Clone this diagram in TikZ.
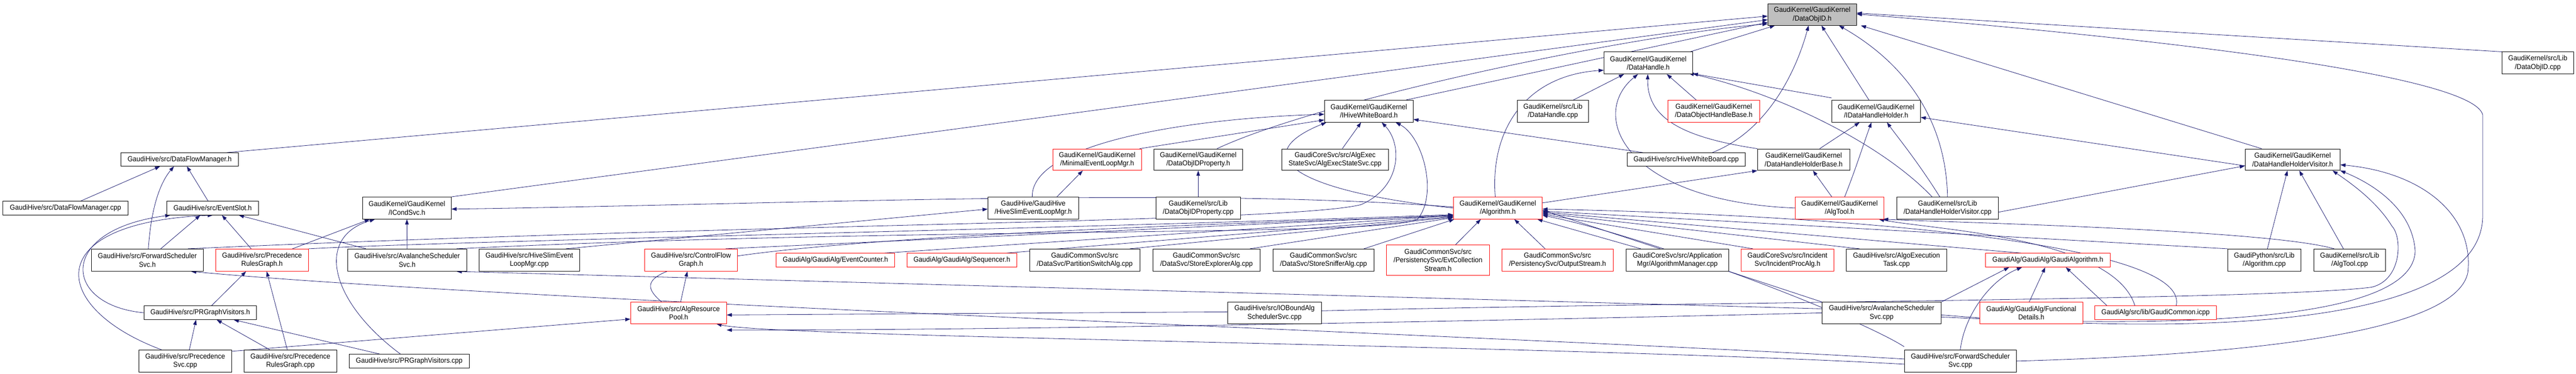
\documentclass[tikz,border=0pt]{standalone}
\usepackage{fontspec}
\setmainfont{Liberation Sans}[FakeStretch=0.93]
\usetikzlibrary{arrows.meta}
\definecolor{edgec}{RGB}{25,25,112}
\definecolor{grayf}{RGB}{191,191,191}
\pgfdeclarelayer{edges}
\pgfsetlayers{edges,main}
\begin{document}
\begin{tikzpicture}[x=1pt,y=-1.394pt,
  box/.style={draw=black,line width=0.8pt,fill=white,inner sep=0pt,align=center,font=\fontsize{14}{16.3}\selectfont},
  rbox/.style={box,draw=red},
  gbox/.style={box,fill=grayf},
  e/.style={draw=edgec,line width=0.8pt,-{Triangle[length=10pt,width=7pt]}}]
\begin{pgfonlayer}{edges}
\fill[white] (0,0) rectangle (4997,520.1);
\end{pgfonlayer}
\useasboundingbox (0,0) rectangle (4997,520.1);
% ---------- nodes ----------
\node[gbox,minimum width=172pt,minimum height=41.8pt] (doid) at (3515.3,20.3) {GaudiKernel/GaudiKernel\\/DataObjID.h};
\node[box,minimum width=172pt,minimum height=42.8pt] (dh) at (3197.3,87.7) {GaudiKernel/GaudiKernel\\/DataHandle.h};
\node[box,minimum width=139pt,minimum height=42.8pt] (doidcpp) at (4922.8,87.7) {GaudiKernel/src/Lib\\/DataObjID.cpp};
\node[box,minimum width=172pt,minimum height=42.8pt] (ihwb) at (2655.3,154.8) {GaudiKernel/GaudiKernel\\/IHiveWhiteBoard.h};
\node[box,minimum width=138pt,minimum height=42.8pt] (dhcpp) at (3012.3,154.8) {GaudiKernel/src/Lib\\/DataHandle.cpp};
\node[rbox,minimum width=178pt,minimum height=42.8pt] (dohb) at (3324.3,154.8) {GaudiKernel/GaudiKernel\\/DataObjectHandleBase.h};
\node[box,minimum width=172pt,minimum height=42.8pt] (idhh) at (3639.3,154.8) {GaudiKernel/GaudiKernel\\/IDataHandleHolder.h};
\node[rbox,minimum width=172pt,minimum height=41.8pt] (mel) at (2128.3,222.3) {GaudiKernel/GaudiKernel\\/MinimalEventLoopMgr.h};
\node[box,minimum width=172pt,minimum height=41.8pt] (doidp) at (2324.3,222.3) {GaudiKernel/GaudiKernel\\/DataObjIDProperty.h};
\node[box,minimum width=207pt,minimum height=41.8pt] (aes) at (2589.8,222.3) {GaudiCoreSvc/src/AlgExec\\StateSvc/AlgExecStateSvc.cpp};
\node[box,minimum width=228.4pt,minimum height=26pt] (dfm) at (348.5,222) {GaudiHive/src/DataFlowManager.h};
\node[box,minimum width=229pt,minimum height=26pt] (hwb) at (3270.8,222) {GaudiHive/src/HiveWhiteBoard.cpp};
\node[box,minimum width=179pt,minimum height=41.8pt] (dhhb) at (3498.8,222.3) {GaudiKernel/GaudiKernel\\/DataHandleHolderBase.h};
\node[box,minimum width=184.3pt,minimum height=41.8pt] (dhhv) at (4447.2,222.3) {GaudiKernel/GaudiKernel\\/DataHandleHolderVisitor.h};
\node[box,minimum width=243.4pt,minimum height=26.9pt] (dfmcpp) at (127,289.7) {GaudiHive/src/DataFlowManager.cpp};
\node[box,minimum width=178.4pt,minimum height=26.9pt] (es) at (412.5,289.7) {GaudiHive/src/EventSlot.h};
\node[box,minimum width=172pt,minimum height=42.8pt] (ics) at (789.3,289.7) {GaudiKernel/GaudiKernel\\/ICondSvc.h};
\node[box,minimum width=176pt,minimum height=42.8pt] (hsel) at (2004.3,289.7) {GaudiHive/GaudiHive\\/HiveSlimEventLoopMgr.h};
\node[box,minimum width=164pt,minimum height=42.8pt] (doidpcpp) at (2324.3,289.7) {GaudiKernel/src/Lib\\/DataObjIDProperty.cpp};
\node[rbox,minimum width=172.4pt,minimum height=42.8pt] (alg) at (2905.5,289.7) {GaudiKernel/GaudiKernel\\/Algorithm.h};
\node[rbox,minimum width=172pt,minimum height=42.8pt] (at) at (3568.3,289.7) {GaudiKernel/GaudiKernel\\/AlgTool.h};
\node[box,minimum width=197pt,minimum height=42.8pt] (dhhvcpp) at (3777.8,289.7) {GaudiKernel/src/Lib\\/DataHandleHolderVisitor.cpp};
\node[box,minimum width=217pt,minimum height=43.2pt] (fsh) at (285.8,362.2) {GaudiHive/src/ForwardScheduler\\Svc.h};
\node[rbox,minimum width=180pt,minimum height=43.2pt] (prgh) at (508.3,362.2) {GaudiHive/src/Precedence\\RulesGraph.h};
\node[box,minimum width=231pt,minimum height=43.2pt] (ash) at (789.8,362.2) {GaudiHive/src/AvalancheScheduler\\Svc.h};
\node[box,minimum width=195pt,minimum height=43.2pt] (hselcpp) at (1026.8,362.2) {GaudiHive/src/HiveSlimEvent\\LoopMgr.cpp};
\node[rbox,minimum width=180pt,minimum height=43.2pt] (cfg) at (1340.3,362.2) {GaudiHive/src/ControlFlow\\Graph.h};
\node[rbox,minimum width=230.4pt,minimum height=26.9pt] (ec) at (1620.5,362.3) {GaudiAlg/GaudiAlg/EventCounter.h};
\node[rbox,minimum width=213pt,minimum height=26.9pt] (seq) at (1865.8,362.3) {GaudiAlg/GaudiAlg/Sequencer.h};
\node[box,minimum width=214.3pt,minimum height=43.2pt] (psa) at (2104.2,362.2) {GaudiCommonSvc/src\\/DataSvc/PartitionSwitchAlg.cpp};
\node[box,minimum width=208pt,minimum height=43.2pt] (sea) at (2340.3,362.2) {GaudiCommonSvc/src\\/DataSvc/StoreExplorerAlg.cpp};
\node[box,minimum width=196pt,minimum height=43.2pt] (ssa) at (2567.3,362.2) {GaudiCommonSvc/src\\/DataSvc/StoreSnifferAlg.cpp};
\node[rbox,minimum width=200.4pt,minimum height=59pt] (ecs) at (2789.5,362.2) {GaudiCommonSvc/src\\/PersistencySvc/EvtCollection\\Stream.h};
\node[rbox,minimum width=216pt,minimum height=43.2pt] (os) at (3021.3,362.2) {GaudiCommonSvc/src\\/PersistencySvc/OutputStream.h};
\node[box,minimum width=199pt,minimum height=43.2pt] (am) at (3253.8,362.2) {GaudiCoreSvc/src/Application\\Mgr/AlgorithmManager.cpp};
\node[rbox,minimum width=180pt,minimum height=43.2pt] (ipa) at (3467.3,362.2) {GaudiCoreSvc/src/Incident\\Svc/IncidentProcAlg.h};
\node[box,minimum width=195pt,minimum height=43.2pt] (aet) at (3678.8,362.2) {GaudiHive/src/AlgoExecution\\Task.cpp};
\node[rbox,minimum width=242pt,minimum height=26.9pt] (ga) at (3972.3,362.3) {GaudiAlg/GaudiAlg/GaudiAlgorithm.h};
\node[box,minimum width=142pt,minimum height=43.2pt] (gpa) at (4392.3,362.2) {GaudiPython/src/Lib\\/Algorithm.cpp};
\node[box,minimum width=139pt,minimum height=43.2pt] (atcpp) at (4557.8,362.2) {GaudiKernel/src/Lib\\/AlgTool.cpp};
\node[box,minimum width=218pt,minimum height=26.5pt] (prgv) at (388.3,435.5) {GaudiHive/src/PRGraphVisitors.h};
\node[rbox,minimum width=186pt,minimum height=41.8pt] (arp) at (1316.3,435.7) {GaudiHive/src/AlgResource\\Pool.h};
\node[box,minimum width=182.7pt,minimum height=41.8pt] (iob) at (2472.3,435.7) {GaudiHive/src/IOBoundAlg\\SchedulerSvc.cpp};
\node[box,minimum width=231.4pt,minimum height=41.8pt] (ascpp) at (3650,435.7) {GaudiHive/src/AvalancheScheduler\\Svc.cpp};
\node[rbox,minimum width=200pt,minimum height=41.8pt] (fd) at (3940.3,435.7) {GaudiAlg/GaudiAlg/Functional\\Details.h};
\node[rbox,minimum width=236pt,minimum height=26.5pt] (gc) at (4181.3,435.5) {GaudiAlg/src/lib/GaudiCommon.icpp};
\node[box,minimum width=180pt,minimum height=43.2pt] (psvc) at (359.3,502.8) {GaudiHive/src/Precedence\\Svc.cpp};
\node[box,minimum width=180pt,minimum height=43.2pt] (prgcpp) at (563.3,502.8) {GaudiHive/src/Precedence\\RulesGraph.cpp};
\node[box,minimum width=233pt,minimum height=27pt] (prgvcpp) at (793.8,503) {GaudiHive/src/PRGraphVisitors.cpp};
\node[box,minimum width=217.3pt,minimum height=43.2pt] (fscpp) at (3802.7,502.8) {GaudiHive/src/ForwardScheduler\\Svc.cpp};
\begin{pgfonlayer}{edges}
% ---------- edges into DataObjID.h ----------
\draw[e] ([xshift=-23pt]dfm.north east) -- ([yshift=-3pt]doid.west);
\draw[e] (ics.north east) -- ([yshift=-10pt]doid.west);
\draw[e] ([xshift=-14pt]ihwb.north east) -- ([yshift=-15pt]doid.west);
\draw[e] ([xshift=-50pt]doidp.north east) .. controls (2560,140) and (3150,50) .. ([yshift=-18pt]doid.west);
\draw[e] ([xshift=-5pt]dh.north east) -- ([xshift=14pt]doid.south west);
\draw[e] ([xshift=-64pt]hwb.north east) .. controls (3420,185) and (3480,110) .. ([xshift=-7pt]doid.south);
\draw[e] ([xshift=-14pt]idhh.north) -- ([xshift=18pt]doid.south);
\draw[e] (dhhvcpp.north) .. controls (3775,170) and (3700,90) .. ([xshift=52pt]doid.south);
\draw[e] ([xshift=-60pt]dhhv.north) -- ([xshift=8pt]doid.south east);
\draw[e] (doidcpp.north west) -- ([yshift=3pt]doid.east);
\draw[e] ([yshift=-4pt]ascpp.east) .. controls (4300,470) and (4816,450) .. (4816,300) -- (4816,160) .. controls (4800,110) and (4300,60) .. ([yshift=1pt]doid.east);
% ---------- DataHandle.h ----------
\draw[e] ([xshift=40pt]dhcpp.north) -- ([xshift=-47pt]dh.south);
\draw[e] ([xshift=-34pt]dohb.north) -- ([xshift=36pt]dh.south);
\draw[e] ([yshift=4pt]idhh.north west) -- ([yshift=1pt]dh.south east);
\draw[e] (dhhb.north west) .. controls (3250,190) and (3195,160) .. ([xshift=-1pt]dh.south);
\draw[e] ([xshift=-5pt]alg.north) .. controls (2890,180) and (2960,105) .. ([yshift=-14pt]dh.west);
\draw[e] (at.west) .. controls (3150,280) and (3080,160) .. ([xshift=-20pt]dh.south);
\draw[e] ([xshift=-30pt]dhhvcpp.north) .. controls (3650,200) and (3450,130) .. ([xshift=-8pt,yshift=2pt]dh.south east);
% ---------- IHiveWhiteBoard.h ----------
\draw[e] ([xshift=14pt]aes.north) -- ([xshift=-15pt]ihwb.south);
\draw[e] ([xshift=-84pt]hwb.north) -- ([yshift=-16pt]ihwb.east);
\draw[e] ([xshift=-2pt]hsel.north) .. controls (2000,200) and (2300,165) .. ([yshift=-6pt]ihwb.west);
\draw[e] ([xshift=-4pt]mel.north east) -- ([yshift=-17pt]ihwb.west);
\draw[e] (alg.west) .. controls (2500,265) and (2420,215) .. ([xshift=4pt]ihwb.south west);
\draw[e] ([xshift=-30pt]fsh.north east) .. controls (1500,310) and (2500,310) .. (2640,285) .. controls (2720,260) and (2720,200) .. ([xshift=25pt]ihwb.south);
\draw[e] ([xshift=-20pt]ash.north east) .. controls (1800,315) and (2700,330) .. (2750,305) .. controls (2790,270) and (2760,190) .. ([xshift=52pt]ihwb.south);
% ---------- IDataHandleHolder.h ----------
\draw[e] ([xshift=31pt]dhhb.north) -- ([xshift=-32pt]idhh.south);
\draw[e] ([yshift=-12pt]dhhv.west) -- ([yshift=-12pt]idhh.east);
\draw[e] ([xshift=-15pt]dhhvcpp.north) .. controls (3720,225) and (3680,190) .. ([xshift=21pt]idhh.south);
\draw[e] ([xshift=10pt]at.north) .. controls (3600,235) and (3615,200) .. ([xshift=-9pt]idhh.south);
% ---------- DataHandleHolderBase.h ----------
\draw[e] ([xshift=-15pt]at.north) -- ([xshift=18pt]dhhb.south);
\draw[e] ([yshift=10pt]alg.east) -- (dhhb.south west);
% ---------- misc upper ----------
\draw[e] (doidpcpp) -- (doidp);
\draw[e] ([xshift=46pt]hsel.north) -- ([xshift=-28pt]mel.south);
\draw[e] ([xshift=-27pt]hselcpp.north east) -- ([yshift=-2pt]hsel.west);
\draw[e] ([xshift=30pt]dfmcpp.north) -- ([xshift=-38pt]dfm.south);
\draw[e] ([xshift=-9pt]es.north) -- ([xshift=14pt]dfm.south);
\draw[e] ([xshift=2pt]fsh.north) .. controls (293,290) and (310,255) .. ([xshift=-11pt]dfm.south);
% ---------- EventSlot.h ----------
\draw[e] ([xshift=26pt]fsh.north) -- ([xshift=-24pt]es.south);
\draw[e] (prgv.west) .. controls (120,425) and (110,320) .. ([xshift=-82pt]es.south);
\draw[e] ([xshift=-46pt]psvc.north) .. controls (100,430) and (70,310) .. ([xshift=-89pt]es.south east);
\draw[e] ([xshift=-21pt]prgh.north) -- ([xshift=18pt]es.south);
\draw[e] ([xshift=-80pt]ash.north) -- ([xshift=-39pt]es.south east);
% ---------- ICondSvc.h ----------
\draw[e] ([xshift=59pt]prgh.north) -- ([xshift=-72pt]ics.south);
\draw[e] (ash.north) -- (ics.south);
\draw[e] ([xshift=-17pt]prgvcpp.north) .. controls (640,420) and (610,330) .. ([xshift=-62pt]ics.south);
\draw[e] ([yshift=2pt]alg.west) .. controls (2300,260) and (1500,285) .. ([yshift=-2pt]ics.east);
% ---------- precedence cluster ----------
\draw[e] ([xshift=-6pt]prgcpp.north) -- ([xshift=9pt]prgh.south);
\draw[e] ([xshift=22pt]prgv.north) -- ([xshift=-31pt]prgh.south);
\draw[e] ([xshift=8pt]psvc.north) -- ([xshift=-8pt]prgv.south);
\draw[e] ([xshift=-40pt]prgcpp.north) -- ([xshift=32pt]prgv.south);
\draw[e] ([xshift=-57pt]prgvcpp.north) -- ([xshift=65pt]prgv.south);
% ---------- AlgResourcePool / ControlFlowGraph ----------
\draw[e] ([xshift=4pt]arp.north) -- ([xshift=-7pt]cfg.south);
\draw[e] ([xshift=-33pt]arp.north) .. controls (1210,375) and (1240,335) .. ([yshift=6pt]alg.south west);
\draw[e] ([yshift=-3pt]psvc.north east) -- ([yshift=-12pt]arp.west);
\draw[e] ([yshift=2pt]iob.west) -- ([yshift=-4pt]arp.east);
\draw[e] (ascpp.west) .. controls (3000,445) and (2000,460) .. ([yshift=-12pt]arp.south east);
\draw[e] ([yshift=-6pt]fscpp.west) .. controls (3000,480) and (1500,470) .. ([xshift=-20pt]arp.south east);
% ---------- Algorithm.h ----------
\draw[e] (prgh.north east) .. controls (900,335) and (2000,320) .. ([yshift=9pt]alg.south west);
\draw[e] ([xshift=-23pt]cfg.north east) -- ([yshift=8pt]alg.south west);
\draw[e] ([xshift=-20pt]ec.north east) -- ([yshift=7pt]alg.south west);
\draw[e] ([xshift=-20pt]seq.north east) -- ([yshift=5pt]alg.south west);
\draw[e] ([xshift=-20pt]psa.north east) -- ([yshift=4pt]alg.south west);
\draw[e] ([xshift=-20pt]sea.north east) -- ([yshift=3pt]alg.south west);
\draw[e] ([xshift=-20pt]ssa.north east) -- ([xshift=2pt]alg.south west);
\draw[e] ([xshift=34pt]ecs.north) -- ([xshift=-33pt]alg.south);
\draw[e] ([xshift=-24pt]os.north) -- ([xshift=32pt]alg.south);
\draw[e] ([xshift=-71pt]am.north) -- ([xshift=-10pt]alg.south east);
\draw[e] ([xshift=-67pt]ipa.north) -- ([yshift=-12pt]alg.east);
\draw[e] ([xshift=-72pt]aet.north) -- ([yshift=-10pt]alg.east);
\draw[e] ([xshift=-52pt]ga.north) -- ([yshift=-8pt]alg.east);
\draw[e] (gpa.north west) -- ([yshift=-6pt]alg.east);
\draw[e] (ascpp.north west) -- ([yshift=-4pt]alg.east);
\draw[e] ([yshift=6pt]fscpp.north west) .. controls (3600,440) and (3200,330) .. ([yshift=-14pt]alg.east);
\draw[e] ([xshift=40pt]gc.north) .. controls (4250,340) and (3600,300) .. ([yshift=-2pt]alg.east);
% ---------- schedulers ----------
\draw[e] ([yshift=8pt]ascpp.west) -- ([xshift=-20pt]ash.south east);
\draw[e] ([yshift=4pt]fscpp.west) .. controls (3000,470) and (1000,420) .. ([xshift=-24pt]fsh.south east);
% ---------- GaudiAlgorithm.h ----------
\draw[e] ([xshift=-4pt]fd.north) -- ([xshift=-5pt]ga.south);
\draw[e] ([xshift=-94pt]gc.north) -- ([xshift=35pt]ga.south);
\draw[e] (ascpp.north east) -- ([xshift=-75pt]ga.south);
\draw[e] ([xshift=0pt]fscpp.north) .. controls (3810,440) and (3860,390) .. ([xshift=-50pt]ga.south);
% ---------- AlgTool.h / visitor ----------
\draw[e] ([xshift=-40pt]gc.north) .. controls (4100,330) and (3750,320) .. ([xshift=-10pt]at.south east);
\draw[e] ([xshift=-30pt]atcpp.north) .. controls (4400,320) and (3800,310) .. ([xshift=-2pt]at.south east);
\draw[e] ([xshift=6pt]gpa.north) -- ([xshift=-10pt]dhhv.south);
\draw[e] ([xshift=-12pt]atcpp.north) -- ([xshift=13pt]dhhv.south);
\draw[e] ([yshift=-8pt]dhhvcpp.east) -- ([yshift=-12pt]dhhv.west);
\draw[e] ([yshift=4pt]iob.east) .. controls (3300,420) and (4400,418) .. (4600,400) .. controls (4660,390) and (4660,330) .. (4640,315) .. controls (4610,280) and (4560,255) .. ([xshift=-15pt]dhhv.south east);
\draw[e] ([yshift=-8pt]ascpp.east) .. controls (4300,460) and (4680,440) .. (4685,350) .. controls (4680,290) and (4600,255) .. ([xshift=0pt]dhhv.south east);
\draw[e] (fscpp.east) .. controls (4300,495) and (4760,470) .. (4787,380) .. controls (4800,300) and (4700,240) .. ([yshift=-10pt]dhhv.east);
\end{pgfonlayer}
\end{tikzpicture}
\end{document}
